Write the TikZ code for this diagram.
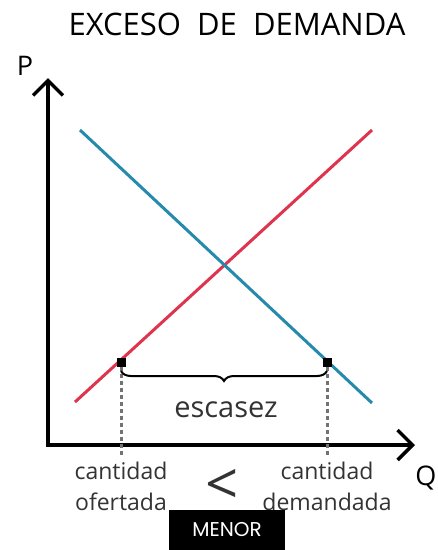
\documentclass[tikz,border=0pt]{standalone}
\usepackage{fontspec}
\setmainfont{Open Sans}
\newfontfamily\boxfont{Poppins}
\usepackage{xcolor}
\usetikzlibrary{arrows.meta, decorations.pathreplacing}

\definecolor{ofertared}{RGB}{222,52,78}
\definecolor{demandablue}{RGB}{38,138,172}

\begin{document}
\begin{tikzpicture}[
  x=1pt, y=-1pt,
  axis/.style={line width=3.5pt, line join=miter,
    {Straight Barb[length=15pt, width=30pt]}-{Straight Barb[length=15pt, width=30pt]}},
  curve/.style={line width=3pt},
  point/.style={rectangle, fill=black, inner sep=0pt, minimum size=9pt},
  guide/.style={line width=3pt, black!55, dash pattern=on 4pt off 3pt},
  label/.style={font=\fontsize{23}{31}\selectfont, text=black!80, align=center}
]
\useasboundingbox (0,0) rectangle (438,550);

\node (title) at (237,24) {\fontsize{31}{34}\selectfont EXCESO\ \ DE\ \ DEMANDA};
\node (P) at (25,66) {\fontsize{27}{28}\selectfont P};
\node (Q) at (426,478) {\fontsize{27}{28}\selectfont Q};

\coordinate (ytop) at (48,78);
\coordinate (O) at (48,445);
\coordinate (xend) at (415,445);
\draw[axis] (ytop) -- (O) -- (xend);

\coordinate (s0) at (75,402);
\coordinate (s1) at (372,130);
\coordinate (d0) at (80,130);
\coordinate (d1) at (372,403);
\draw[curve, ofertared] (s0) -- (s1);
\draw[curve, demandablue] (d0) -- (d1);

\node[point] (qs) at (121,362) {};
\node[point] (qd) at (327,362) {};
\coordinate (qsbase) at (121,455);
\coordinate (qdbase) at (327,455);
\draw[guide] (qs) -- (qsbase);
\draw[guide] (qd) -- (qdbase);

\draw[line width=2pt, decorate, decoration={brace, mirror, amplitude=10pt}]
  (121,371) -- (327,371);
\node[font=\fontsize{29}{32}\selectfont, text=black!80] (gap) at (226,410) {escasez};

\node[label] (ofertada) at (121,486) {cantidad\\ofertada};
\node[label] (demandada) at (327,486) {cantidad\\demandada};
\node[font=\fontsize{58}{58}\selectfont, text=black!80] (lt) at (222,487) {<};

\node[fill=black, text=white, minimum width=116pt, minimum height=40pt,
  font=\fontsize{20}{22}\selectfont\boxfont] (menor) at (227,530) {MENOR};
\end{tikzpicture}
\end{document}
